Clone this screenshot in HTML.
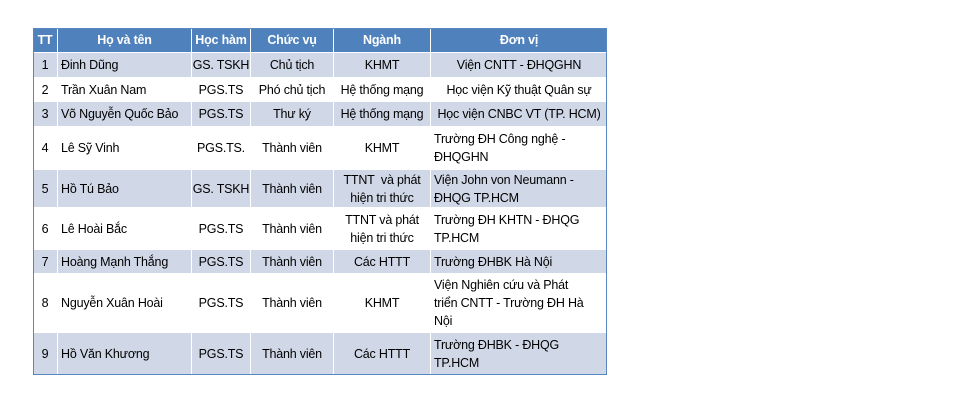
<!DOCTYPE html>
<html><head><meta charset="utf-8"><style>
body{margin:0;width:955px;height:404px;background:#fff;position:relative;overflow:hidden;font-family:"Liberation Sans","DejaVu Sans",sans-serif;}
.c{position:absolute;display:flex;align-items:center;font-size:12.5px;color:#000;line-height:18px;box-sizing:border-box;padding:0 3px;letter-spacing:-0.2px}
.n{white-space:nowrap;padding:0 1px}
.m{justify-content:center;text-align:center}
.h{color:#fff;font-weight:bold;justify-content:center}
.frame{position:absolute;left:33px;top:28px;width:574px;height:347px;border:1px solid #5b87c0;box-sizing:border-box}
</style></head><body>
<div id="t"></div>
<div class="frame"></div>
<script>
var cols=[33,58,192,251,334,431,607];
var rows=[28,53,78,102,127,170,208,250,274,333,375];
var data=[
["TT","Họ và tên","Học hàm","Chức vụ","Ngành","Đơn vị"],
["1","Đinh Dũng","GS. TSKH","Chủ tịch","KHMT","Viện CNTT - ĐHQGHN"],
["2","Trần Xuân Nam","PGS.TS","Phó chủ tịch","Hệ thống mạng","Học viện Kỹ thuật Quân sự"],
["3","Võ Nguyễn Quốc Bảo","PGS.TS","Thư ký","Hệ thống mạng","Học viện CNBC VT (TP. HCM)"],
["4","Lê Sỹ Vinh","PGS.TS.","Thành viên","KHMT","Trường ĐH Công nghệ -<br>ĐHQGHN"],
["5","Hồ Tú Bảo","GS. TSKH","Thành viên","TTNT &nbsp;và phát<br>hiện tri thức","Viện John von Neumann -<br>ĐHQG TP.HCM"],
["6","Lê Hoài Bắc","PGS.TS","Thành viên","TTNT và phát<br>hiện tri thức","Trường ĐH KHTN - ĐHQG<br>TP.HCM"],
["7","Hoàng Mạnh Thắng","PGS.TS","Thành viên","Các HTTT","Trường ĐHBK Hà Nội"],
["8","Nguyễn Xuân Hoài","PGS.TS","Thành viên","KHMT","Viện Nghiên cứu và Phát<br>triển CNTT - Trường ĐH Hà<br>Nội"],
["9","Hồ Văn Khương","PGS.TS","Thành viên","Các HTTT","Trường ĐHBK - ĐHQG<br>TP.HCM"]];
var h="";
for(var r=0;r<data.length;r++){
 var bg=r==0?"#4f81bd":(r%2?"#d0d8e8":"#fff");
 for(var c=0;c<6;c++){
  var cls="c";
  if(c<5)cls+=" n";
  if(r==0)cls+=" h"; else if(c==0||c==2||c==3||c==4||(c==5&&r<=3))cls+=" m";
  var l=cols[c],w=cols[c+1]-cols[c],t=rows[r],hh=rows[r+1]-rows[r];
  var pad=(c==1&&r>0)?';padding-left:3px':'';
  h+='<div class="'+cls+'" style="left:'+l+'px;top:'+t+'px;width:'+w+'px;height:'+hh+'px;background:'+bg+';border-right:'+(c<5?'1.5px solid #fff':'0')+';border-bottom:1px solid #fff'+pad+'">'+data[r][c]+'</div>';
 }
}
document.getElementById("t").innerHTML=h;
</script>
</body></html>
